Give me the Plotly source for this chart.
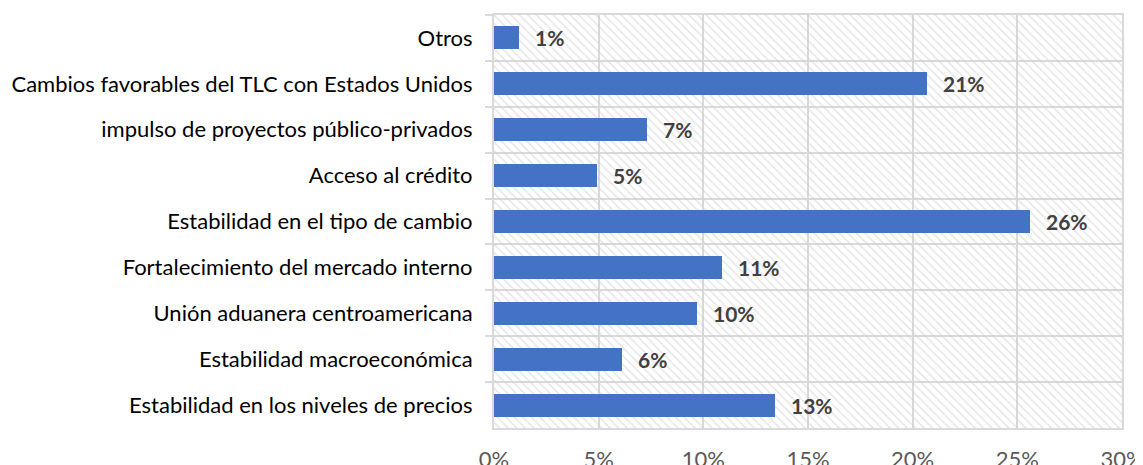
import plotly.graph_objects as go

# categories listed top to bottom
categories = [
    "Otros",
    "Cambios favorables del TLC con Estados Unidos",
    "impulso de proyectos público-privados",
    "Acceso al crédito",
    "Estabilidad en el tipo de cambio",
    "Fortalecimiento del mercado interno",
    "Unión aduanera centroamericana",
    "Estabilidad macroeconómica",
    "Estabilidad en los niveles de precios",
]
values = [1.2, 20.7, 7.3, 4.9, 25.6, 10.9, 9.7, 6.1, 13.4]
labels = ["1%", "21%", "7%", "5%", "26%", "11%", "10%", "6%", "13%"]

x_ticks = [0, 5, 10, 15, 20, 25, 30]
x_ticklabels = ["0%", "5%", "10%", "15%", "20%", "25%", "30%"]

X_MAX = 30
GRID = "#d9d9d9"
FONT = "Lato"

fig = go.Figure()

# hatched plot-area background
fig.add_trace(
    go.Bar(
        y=categories,
        x=[X_MAX] * len(categories),
        orientation="h",
        width=1,
        marker=dict(
            color="rgba(0,0,0,0)",
            line=dict(width=0),
            pattern=dict(shape="\\", fgcolor="#cfcfcf", bgcolor="rgba(0,0,0,0)",
                         size=6, solidity=0.28),
        ),
        hoverinfo="skip",
        showlegend=False,
    )
)

# data bars
fig.add_trace(
    go.Bar(
        y=categories,
        x=values,
        orientation="h",
        width=0.5,
        marker=dict(color="#4472C4", line=dict(width=0)),
        showlegend=False,
    )
)

# value labels
for cat, val, lab in zip(categories, values, labels):
    fig.add_annotation(
        x=val, y=cat, text="<b>" + lab + "</b>",
        xanchor="left", xshift=14, showarrow=False,
        font=dict(family=FONT, size=21, color="#404040"),
    )

# the page body adds an 8px offset, so the figure is 8px smaller
fig.update_layout(
    width=1135,
    height=457,
    margin=dict(l=486, r=21, t=7, b=37),
    paper_bgcolor="white",
    plot_bgcolor="white",
    barmode="overlay",
    bargap=0,
    font=dict(family=FONT),
    xaxis=dict(
        range=[0, X_MAX],
        tickvals=x_ticks,
        ticktext=x_ticklabels,
        showgrid=True,
        gridcolor=GRID,
        gridwidth=2,
        zeroline=False,
        showline=True,
        linecolor=GRID,
        linewidth=2,
        mirror=True,
        ticks="",
        ticklabelstandoff=11,
        ticklabeloverflow="allow",
        tickfont=dict(family=FONT, size=22, color="#595959"),
        automargin=False,
    ),
    yaxis=dict(
        autorange="reversed",
        tickson="boundaries",
        showgrid=True,
        gridcolor=GRID,
        gridwidth=2,
        showline=True,
        linecolor=GRID,
        linewidth=2,
        mirror=True,
        ticks="outside",
        ticklen=7,
        tickwidth=2,
        tickcolor=GRID,
        ticklabelstandoff=15,
        tickfont=dict(family=FONT, size=22, color="#000000"),
        automargin=False,
    ),
)

fig.write_html("out.html")
